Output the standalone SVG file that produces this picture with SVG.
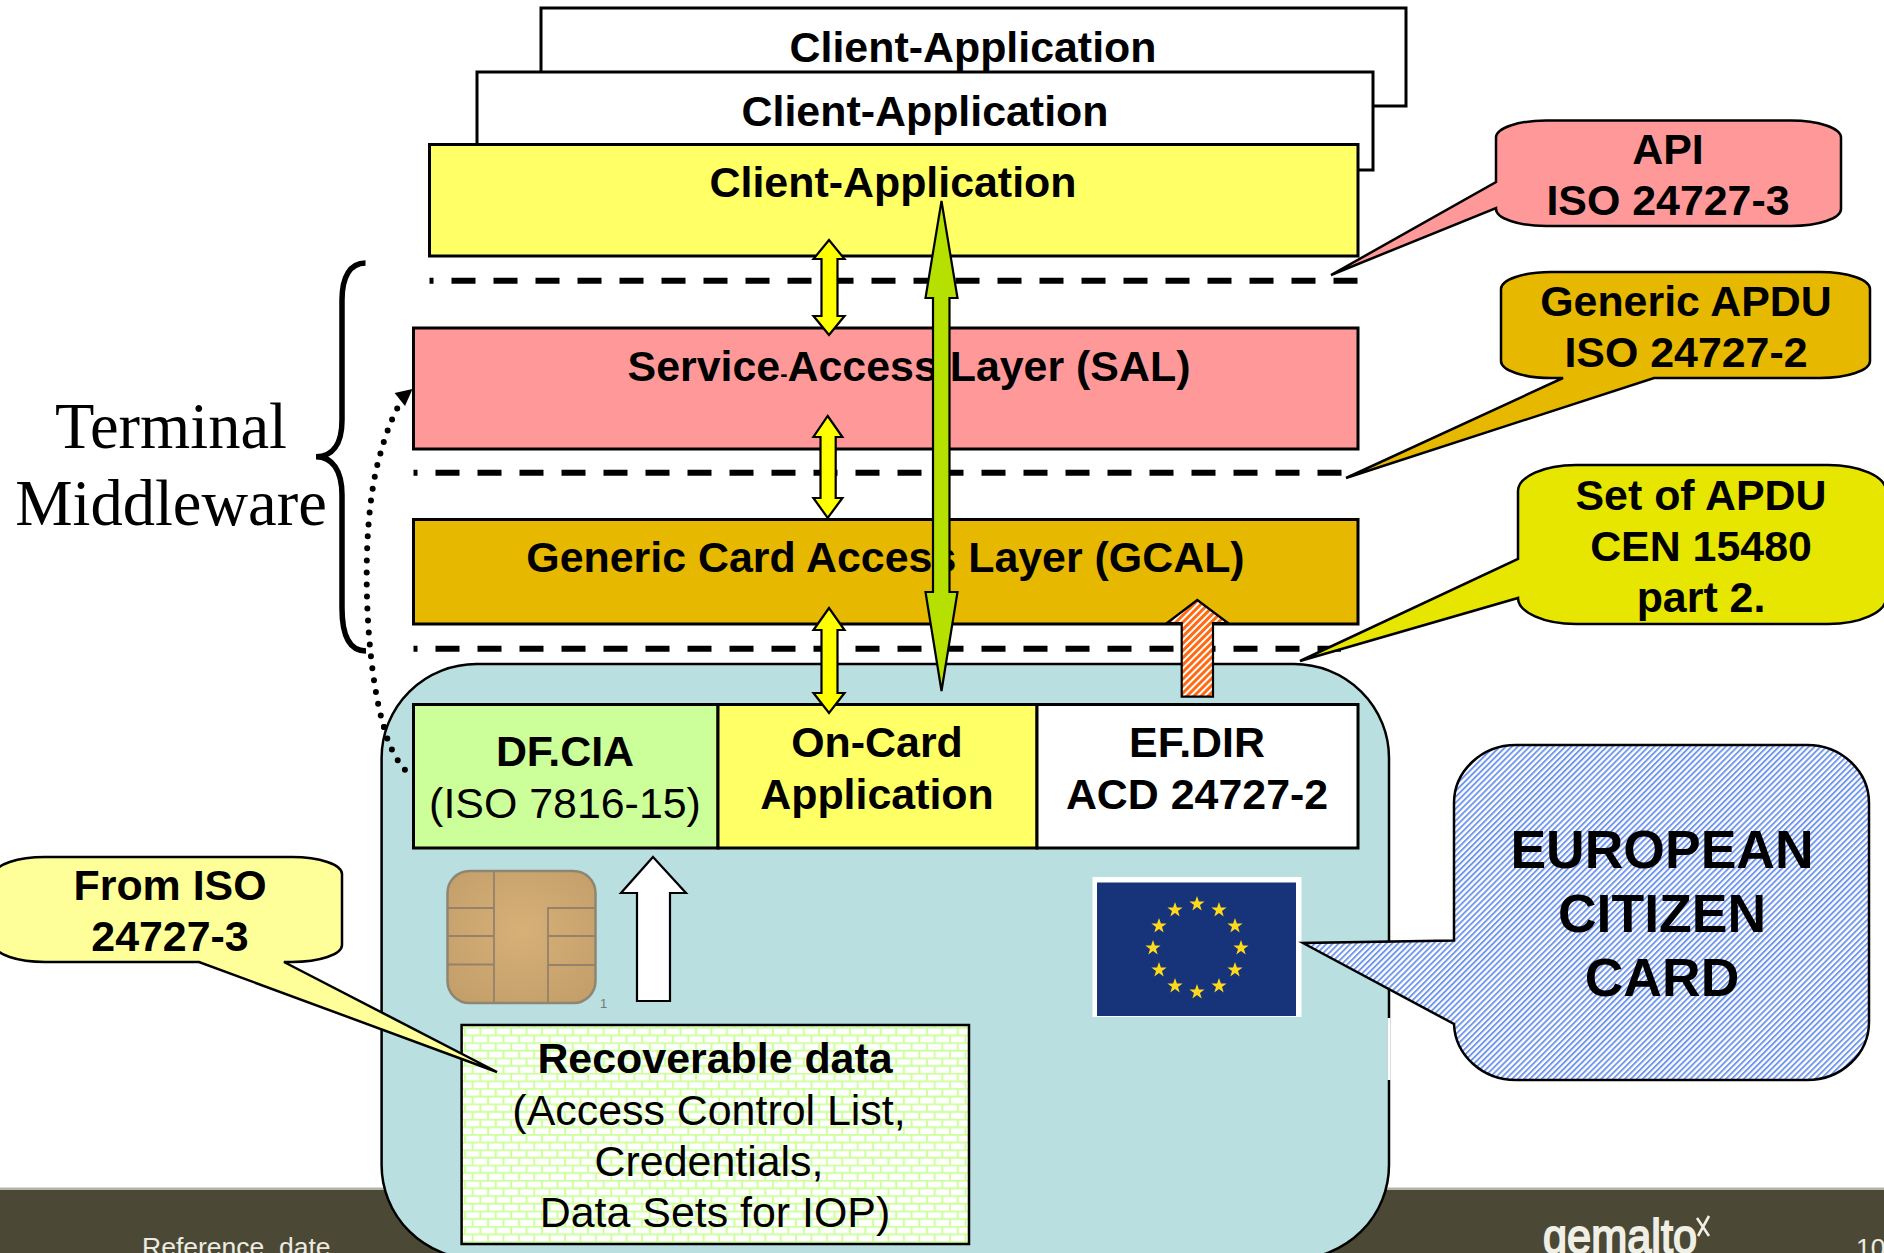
<svg xmlns="http://www.w3.org/2000/svg" xmlns:xlink="http://www.w3.org/1999/xlink" width="1884" height="1253" viewBox="0 0 1884 1253">
<style>
text{font-family:"Liberation Sans",Arial,sans-serif;font-size:42.9px;text-anchor:middle;fill:#000}
.b{font-weight:bold}
.box{stroke:#000;stroke-width:3}
.call{stroke:#000;stroke-width:2.5;stroke-linejoin:miter}
.dash{fill:none;stroke:#000;stroke-width:6;stroke-dasharray:24 18;stroke-dashoffset:20}
.arr{stroke:#000;stroke-width:2.2;stroke-linejoin:miter}
.serif{font-family:"Liberation Serif","Times New Roman",serif;font-size:64.5px}
.foot{fill:#ECEBE2;font-size:26.5px;text-anchor:start}
.chipline{fill:none;stroke:#94826A;stroke-width:1.8}
.eu{font-size:53.5px}
</style>
<defs>
<pattern id="brick" width="15.4" height="15.3" patternUnits="userSpaceOnUse" x="462" y="1027">
<rect width="15.4" height="15.3" fill="#fff"/>
<path d="M0 .7H15.4M0 8.35H15.4M3 0V7.65M10.7 7.65V15.3" fill="none" stroke="#CCFF99" stroke-width="1.9"/>
</pattern>
<pattern id="bluehatch" width="4.2" height="4.2" patternUnits="userSpaceOnUse" patternTransform="rotate(45)">
<rect width="4.2" height="4.2" fill="#fff"/><rect width="1.9" height="4.2" fill="#7096EE"/>
</pattern>
<pattern id="orangehatch" width="5" height="5" patternUnits="userSpaceOnUse" patternTransform="rotate(45)">
<rect width="5" height="5" fill="#fff"/><rect width="3" height="5" fill="#FF6A13"/>
</pattern>
<radialGradient id="chipfill" cx="50%" cy="45%" r="65%">
<stop offset="0" stop-color="#D6B077"/><stop offset="1" stop-color="#C49F6A"/>
</radialGradient>
<polygon id="star" points="0,-8 1.9,-2.5 7.6,-2.5 3,1 4.7,6.5 0,3.1 -4.7,6.5 -3,1 -7.6,-2.5 -1.9,-2.5" fill="#FFD91A"/>
</defs>
<rect width="1884" height="1253" fill="#fff"/>
<g id="footer">
<rect x="0" y="1187.500" width="1884" height="3" fill="#B5B3A8"/>
<rect x="0" y="1190" width="1884" height="64" fill="#4B4935"/>
<text class="foot" x="142" y="1256">Reference, date</text>
<text class="foot" x="1856" y="1257">10</text>
<g id="logo">
<text x="1620" y="1253" textLength="154" lengthAdjust="spacingAndGlyphs" style="font-size:48px;fill:#F0EFE6;stroke:#F0EFE6;stroke-width:1.8">gemalto</text>
<path d="M1697 1218L1709 1236M1709 1216L1698 1236" stroke="#F0EFE6" stroke-width="2.6" fill="none"/>
</g>
</g>
<g id="client-app-back">
<rect class="box" x="541" y="8" width="865" height="98" fill="#fff"/>
<text class="b" x="973" y="62">Client-Application</text>
</g>
<g id="client-app-middle">
<rect class="box" x="477" y="72" width="896" height="98" fill="#fff"/>
<text class="b" x="925" y="126">Client-Application</text>
</g>
<g id="client-app-front">
<rect class="box" x="429.500" y="144.500" width="928.500" height="111.500" fill="#FFFF66"/>
<text class="b" x="893" y="197">Client-Application</text>
</g>
<g id="sal">
<rect class="box" x="413.500" y="328" width="944.500" height="121" fill="#FF9999"/>
<text class="b" x="909" y="381">Service<tspan style="font-size:22px">-</tspan>Access Layer (SAL)</text>
</g>
<g id="gcal">
<rect class="box" x="413.500" y="519.500" width="944.500" height="104.500" fill="#E6B800"/>
<text class="b" x="885.500" y="572">Generic Card Access Layer (GCAL)</text>
</g>
<g id="terminal-middleware">
<text class="serif" x="171" y="448">Terminal</text>
<text class="serif" x="171" y="525">Middleware</text>
<path d="M365.500 263C350 263 342 277 342 300V420C342 445 332 456.700 316 456.700C332 456.700 342 470 342 495V608C342 636 350 651 366 651" fill="none" stroke="#000" stroke-width="5.500"/>
</g>
<g id="card">
<rect x="381.600" y="664" width="1007.400" height="595" rx="95" ry="94" fill="#B9DFE1" stroke="#000" stroke-width="2.500"/>
<path d="M1389 1018V1080" stroke="#fff" stroke-width="3"/>
</g>
<g id="df-cia">
<rect class="box" x="413.500" y="704.500" width="304.500" height="143.500" fill="#CCFF99"/>
<text class="b" x="565" y="766">DF.CIA</text>
<text x="565" y="818">(ISO 7816-15)</text>
</g>
<g id="on-card-application">
<rect class="box" x="718" y="704.500" width="319" height="143.500" fill="#FFFF66"/>
<text class="b" x="877" y="757">On-Card</text>
<text class="b" x="877" y="809">Application</text>
</g>
<g id="ef-dir">
<rect class="box" x="1037" y="704.500" width="321" height="143.500" fill="#fff"/>
<text class="b" x="1197" y="757">EF.DIR</text>
<text class="b" x="1197" y="809">ACD 24727-2</text>
</g>
<g id="chip">
<rect x="447.500" y="871" width="148" height="132" rx="22" ry="22" fill="url(#chipfill)" stroke="#8E8672" stroke-width="2.500"/>
<path class="chipline" d="M494 871V1003M447.500 908H494M447.500 936H494M447.500 964.500H494M548 1003V908H595.500M548 936H595.500M548 965H595.500"/>
<text x="603.500" y="1008" style="font-size:13px;fill:#777">1</text>
</g>
<g id="recoverable-data">
<rect x="461.600" y="1025" width="507.400" height="219" fill="url(#brick)" stroke="#000" stroke-width="2.500"/>
<text class="b" x="715" y="1073">Recoverable data</text>
<text x="709" y="1125">(Access Control List,</text>
<text x="709" y="1176">Credentials,</text>
<text x="715" y="1227">Data Sets for IOP)</text>
</g>
<g id="eu-flag">
<rect x="1092.500" y="877" width="209" height="140" fill="#fff"/>
<rect x="1097" y="882.500" width="199" height="133.500" fill="#17337A"/>
<use xlink:href="#star" href="#star" x="1197" y="904"/>
<use xlink:href="#star" href="#star" x="1219" y="910"/>
<use xlink:href="#star" href="#star" x="1235" y="926"/>
<use xlink:href="#star" href="#star" x="1241" y="948"/>
<use xlink:href="#star" href="#star" x="1235" y="970"/>
<use xlink:href="#star" href="#star" x="1219" y="986"/>
<use xlink:href="#star" href="#star" x="1197" y="992"/>
<use xlink:href="#star" href="#star" x="1175" y="986"/>
<use xlink:href="#star" href="#star" x="1159" y="970"/>
<use xlink:href="#star" href="#star" x="1153" y="948"/>
<use xlink:href="#star" href="#star" x="1159" y="926"/>
<use xlink:href="#star" href="#star" x="1175" y="910"/>
</g>
<g id="connectors">
<path class="dash" d="M429.500 280.700H1358"/>
<path class="dash" d="M413.500 472.700H1343"/>
<path class="dash" d="M413.500 648.700H1341"/>
<path class="arr" fill="#FFFF00" d="M829 240L844.500 259H837.500V316H844.500L829 335L813.500 316H821.500V259H813.500Z"/>
<path class="arr" fill="#FFFF00" d="M827.700 416L842.400 437H835.700V498H842.400L827.700 518L813.400 498H820.500V437H813.400Z"/>
<path class="arr" fill="#FFFF00" d="M829 608L844.500 630H837.500V693H844.500L829 713L813.500 693H821.500V630H813.500Z"/>
<path class="arr" fill="#B5E000" d="M941.500 201L957.500 298H949.500V592H957.500L941.500 691L925.500 592H933V298H925.500Z"/>
<path class="arr" fill="url(#orangehatch)" d="M1197.300 600L1228 623H1213V696.700H1181.700V623H1167Z"/>
<path class="arr" fill="#fff" d="M653 857L686 893H670V1001H637V893H621Z"/>
<path d="M384 727C366 670 358 530 380 455C388 425 398 405 405 396" fill="none" stroke="#000" stroke-width="6" stroke-linecap="round" stroke-dasharray="0 12"/>
<path d="M384 727C388 745 398 765 412 777" fill="none" stroke="#000" stroke-width="6" stroke-linecap="round" stroke-dasharray="0 12"/>
<polygon points="412.500,389 394.600,393 405,406" fill="#000"/>
</g>
<g id="callout-api">
<path class="call" fill="#FF9999" d="M1546 120.500H1791A50 17 0 0 1 1841 137.500V209A50 17 0 0 1 1791 226H1546A50 17 0 0 1 1496 209V208L1331 275L1496 182V137.500A50 17 0 0 1 1546 120.500Z"/>
<text class="b" x="1668" y="164">API</text>
<text class="b" x="1668" y="215">ISO 24727-3</text>
</g>
<g id="callout-generic-apdu">
<path class="call" fill="#E6B800" d="M1551 272H1820A50 17 0 0 1 1870 289V361A50 17 0 0 1 1820 378H1654L1346 478L1563 378H1551A50 17 0 0 1 1501 361V289A50 17 0 0 1 1551 272Z"/>
<text class="b" x="1686" y="316">Generic APDU</text>
<text class="b" x="1686" y="367">ISO 24727-2</text>
</g>
<g id="callout-set-apdu">
<path class="call" fill="#E6E600" d="M1576 465H1828A58 26 0 0 1 1886 491V598A58 26 0 0 1 1828 624H1576A58 26 0 0 1 1518 598L1300 661L1518 559V491A58 26 0 0 1 1576 465Z"/>
<text class="b" x="1701" y="510">Set of APDU</text>
<text class="b" x="1701" y="561">CEN 15480</text>
<text class="b" x="1701" y="612">part 2.</text>
</g>
<g id="callout-from-iso">
<path class="call" fill="#FFFF99" d="M45 857H292A50 17 0 0 1 342 874V945A50 17 0 0 1 292 962H284L497 1072L199 962H45A50 17 0 0 1 -5 945V874A50 17 0 0 1 45 857Z"/>
<text class="b" x="170" y="900">From ISO</text>
<text class="b" x="170" y="951">24727-3</text>
</g>
<g id="callout-european-citizen-card">
<path class="call" fill="url(#bluehatch)" d="M1516 745H1807A62 58 0 0 1 1869 803V1022A62 58 0 0 1 1807 1080H1516A62 58 0 0 1 1454 1024L1303 943L1454 940.500V803A62 58 0 0 1 1516 745Z"/>
<text class="b eu" x="1662" y="868">EUROPEAN</text>
<text class="b eu" x="1662" y="932">CITIZEN</text>
<text class="b eu" x="1662" y="996">CARD</text>
</g>
</svg>
